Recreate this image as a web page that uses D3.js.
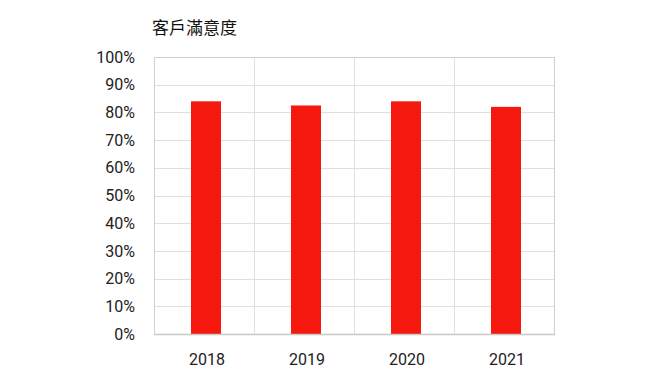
<!DOCTYPE html>
<html><head><meta charset="utf-8">
<script src="https://cdn.jsdelivr.net/npm/d3@7"></script>
<style>body{margin:0;background:#fff}svg{display:block}</style>
</head><body>
<svg id="c" width="653" height="383"></svg>
<script>
const categories = ["2018", "2019", "2020", "2021"];
const values = [0.84, 0.825, 0.84, 0.82];
const yTicks = [0, 0.1, 0.2, 0.3, 0.4, 0.5, 0.6, 0.7, 0.8, 0.9, 1.0];
const title = "客戶滿意度";

const svg = d3.select("#c");
const L = 154, R = 554, T = 57, B = 334;
const x = d3.scaleBand().domain(categories).range([L, R]);
const y = d3.scaleLinear().domain([0, 1]).range([B, T]);
const font = "Roboto, 'Noto Sans CJK TC', sans-serif";

// horizontal grid
svg.append("g").selectAll("line").data(yTicks).join("line")
  .attr("x1", L).attr("x2", R)
  .attr("y1", d => Math.round(y(d)) + 0.5).attr("y2", d => Math.round(y(d)) + 0.5)
  .attr("stroke", "#e0e0e0").attr("stroke-width", 1);
// vertical grid
svg.append("g").selectAll("line").data(categories.slice(1)).join("line")
  .attr("x1", d => Math.round(x(d)) + 0.5).attr("x2", d => Math.round(x(d)) + 0.5)
  .attr("y1", T).attr("y2", B)
  .attr("stroke", "#e0e0e0");
// border
svg.append("rect").attr("x", L + 0.5).attr("y", T + 0.5).attr("width", R - L).attr("height", B - T)
  .attr("fill", "none").attr("stroke", "#d0d0d0");

// bars
const bw = 30;
svg.append("g").selectAll("rect").data(categories).join("rect")
  .attr("x", (d) => x(d) + x.bandwidth() / 2 - bw / 2 + 2)
  .attr("y", (d, i) => y(values[i]))
  .attr("width", bw)
  .attr("height", (d, i) => B - y(values[i]))
  .attr("fill", "#f5180f");

// baseline
svg.append("line").attr("x1", L).attr("x2", R + 1).attr("y1", B + 0.5).attr("y2", B + 0.5)
  .attr("stroke", "#c8c8c8").attr("stroke-width", 1.5);

// y axis labels
const yAxis = d3.axisLeft(y).tickValues(yTicks).tickFormat(d3.format(".0%")).tickSize(0).tickPadding(19);
const ya = svg.append("g").attr("transform", `translate(${L},0)`).call(yAxis);
ya.select(".domain").remove();
ya.selectAll("text").attr("font-family", font).attr("font-size", 16).attr("fill", "#222");

// x axis labels
const xAxis = d3.axisBottom(x).tickSize(0).tickPadding(20);
const xa = svg.append("g").attr("transform", `translate(3,${B})`).call(xAxis);
xa.select(".domain").remove();
xa.selectAll("text").attr("font-family", font).attr("font-size", 16).attr("fill", "#222");

// title
svg.append("text").attr("x", 152).attr("y", 34).text(title)
  .attr("font-family", "'Noto Sans CJK TC', sans-serif").attr("font-size", 17).attr("fill", "#111");
</script>
</body></html>
